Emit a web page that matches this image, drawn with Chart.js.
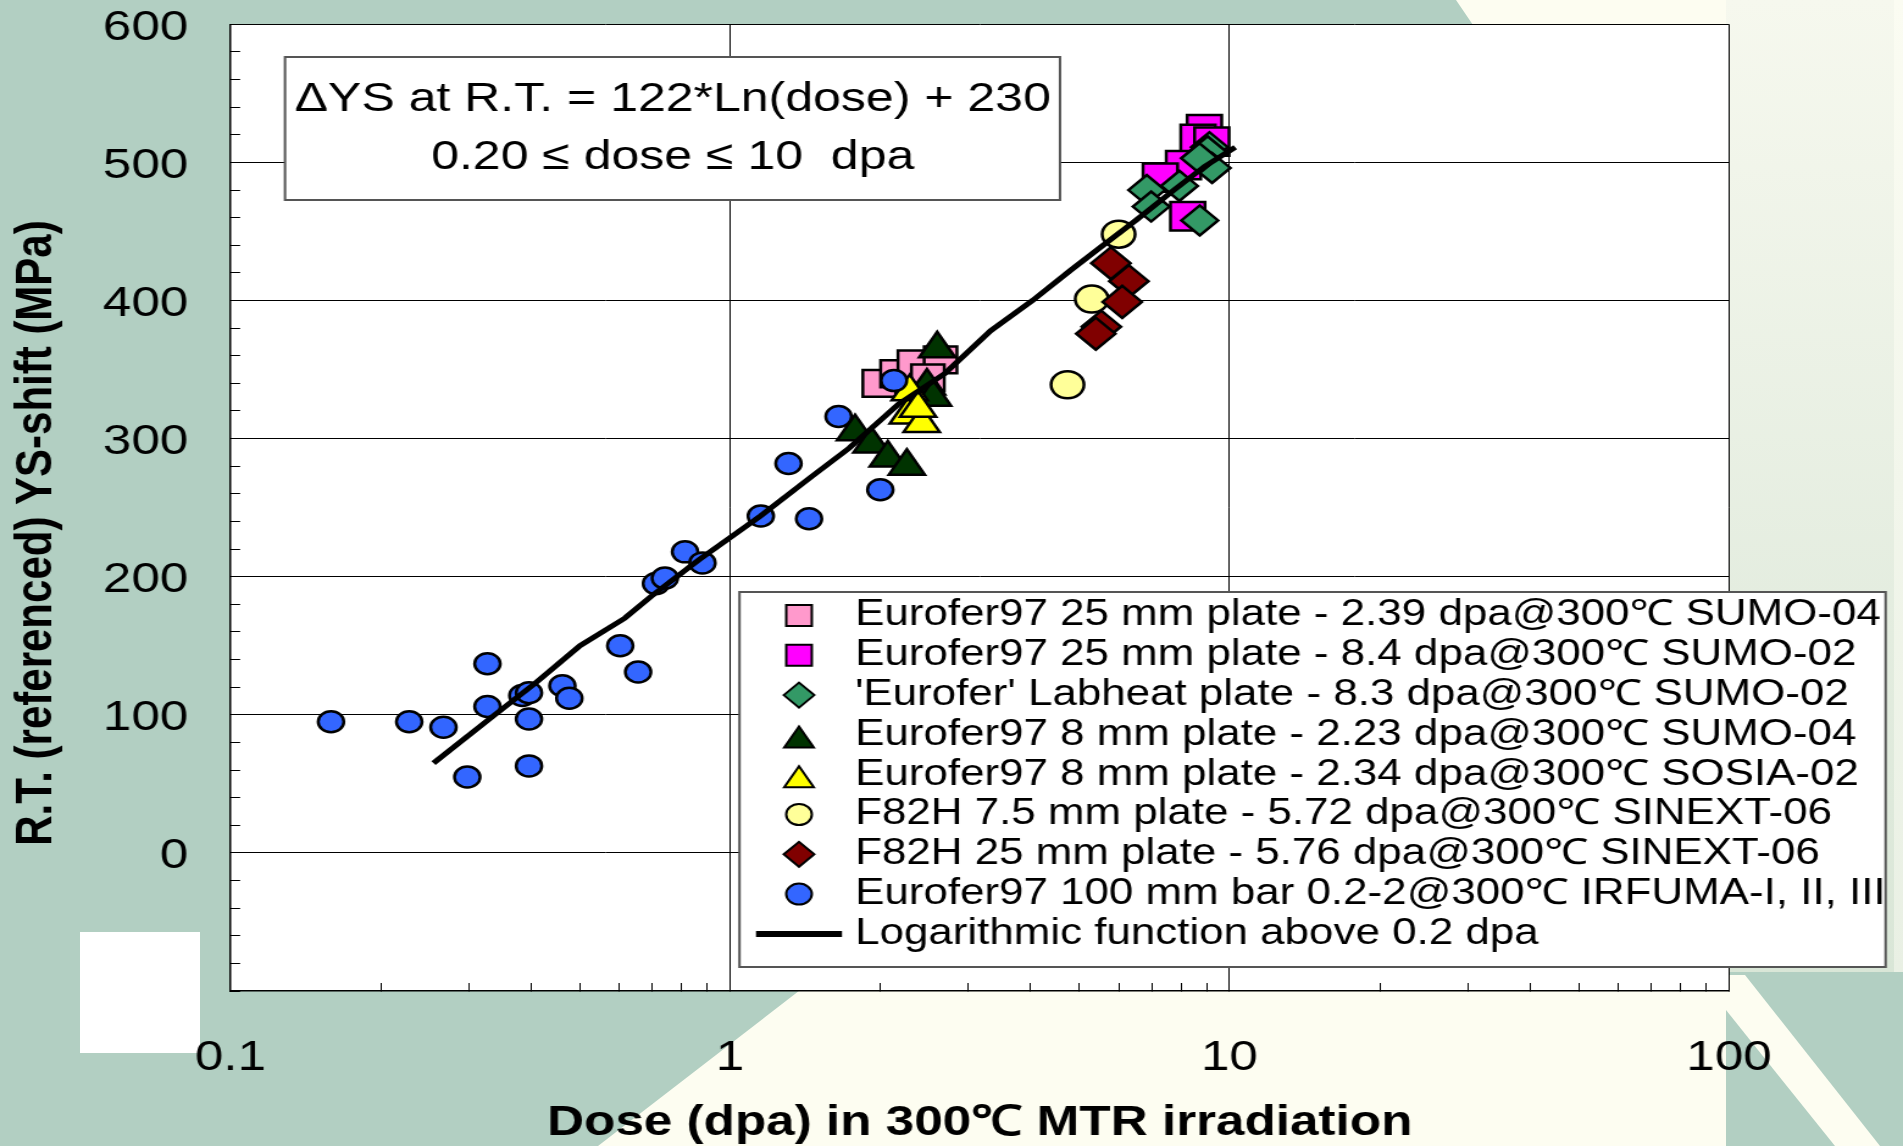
<!DOCTYPE html>
<html>
<head>
<meta charset="utf-8">
<title>R.T. YS-shift vs dose</title>
<script src="https://cdn.jsdelivr.net/npm/chart.js@4.4.1/dist/chart.umd.min.js"></script>
<style>
  html, body { margin: 0; padding: 0; overflow: hidden; }
  body { background: #b2cfc2; width: 1903px; height: 1146px; position: relative; }
  .deco { position: absolute; left: 0; top: 0; width: 1903px; height: 1146px; }
  #beam { background: #fdfdf1; clip-path: polygon(1456px 0, 1726px 0, 1726px 1146px, 598px 1146px, 852px 950px, 1490px 50px); }
  #strip { background: #fdfdf1; clip-path: polygon(1726px 975px, 1745px 975px, 1880px 1146px, 1835px 1146px, 1726px 1010px); }
  #panel { position: absolute; left: 1726px; top: 0; width: 168px; height: 972px; background: linear-gradient(#f6f8ee, #d9e6d7); }
  #edge { position: absolute; left: 1894px; top: 0; width: 9px; height: 972px; background: linear-gradient(#fbfcf2, #e9f0e4); }
  #patch { position: absolute; left: 80px; top: 932px; width: 120px; height: 121px; background: #fff; }
  canvas { position: absolute; left: 0; top: 0; }
</style>
</head>
<body>
<div class="deco" id="beam"></div>
<div class="deco" id="strip"></div>
<div id="panel"></div>
<div id="edge"></div>
<div id="patch"></div>
<canvas id="chart" width="1560" height="1146" style="width:1903px;height:1146px"></canvas>
<script>
// the slide picture is stretched sideways, so the canvas is drawn narrower and widened by css
const STRETCH = 1903 / 1560;
const ix = (x) => x / STRETCH;

const seriesNames = [
    "Eurofer97 25 mm plate - 2.39 dpa@300\u2103 SUMO-04",
    "Eurofer97 25 mm plate - 8.4 dpa@300\u2103 SUMO-02",
    "'Eurofer' Labheat plate - 8.3 dpa@300\u2103 SUMO-02",
    "Eurofer97 8 mm plate - 2.23 dpa@300\u2103 SUMO-04",
    "Eurofer97 8 mm plate - 2.34 dpa@300\u2103 SOSIA-02",
    "F82H 7.5 mm plate - 5.72 dpa@300\u2103 SINEXT-06",
    "F82H 25 mm plate - 5.76 dpa@300\u2103 SINEXT-06",
    "Eurofer97 100 mm bar 0.2-2@300\u2103 IRFUMA-I, II, III",
    "Logarithmic function above 0.2 dpa"
];

const pinkX = [1.99, 2.16, 2.34, 2.64, 2.49];
const pinkY = [340, 347, 354, 357, 344];

const magentaX = [8.91, 8.65, 9.22, 8.09, 7.27, 8.25];
const magentaY = [524, 517, 515, 498, 489, 461];

const labheatX = [9.12, 9.04, 9.23, 8.71, 7.94, 6.83, 6.97, 8.72];
const labheatY = [511, 508, 496, 503, 483, 480, 468, 458];

const sumoTriX = [1.78, 1.92, 2.07, 2.26, 2.48, 2.55, 2.60];
const sumoTriY = [305, 296, 286, 280, 338, 330, 365];

const sosiaTriX = [2.29, 2.27, 2.42, 2.38];
const sosiaTriY = [334, 317, 311, 322];

const f82hPlateX = [4.74, 5.30, 6.00];
const f82hPlateY = [339, 401, 448];

const f82hThickX = [5.79, 6.29, 6.10, 5.54, 5.40];
const f82hThickY = [427, 414, 399, 381, 376];

const irfumaX = [0.159, 0.228, 0.267, 0.298, 0.327, 0.327, 0.384, 0.396, 0.396, 0.396, 0.462, 0.477,
                 0.603, 0.655, 0.711, 0.741, 0.813, 0.881, 1.153, 1.44, 1.31, 2.0, 1.65, 2.13];
const irfumaY = [95, 95, 91, 55, 137, 106, 114, 116, 97, 63, 121, 112,
                 150, 131, 195, 199, 218, 210, 244, 242, 282, 263, 316, 342];

const fitX = [0.255, 0.33, 0.408, 0.501, 0.616, 0.697, 0.865, 1.152, 1.451, 1.731, 2.176, 2.69,
              3.324, 4.035, 4.812, 5.54, 6.494, 7.744, 8.91, 10.27];
const fitY = [65, 97, 123, 150, 170, 186, 212, 244, 272, 293, 325, 347,
              378, 400, 422, 439, 458, 480, 497, 511];

const xTicks = [0.1, 0.2, 0.3, 0.4, 0.5, 0.6, 0.7, 0.8, 0.9,
                1, 2, 3, 4, 5, 6, 7, 8, 9,
                10, 20, 30, 40, 50, 60, 70, 80, 90, 100];
const xLabels = [0.1, 1, 10, 100];
const yLabels = [0, 100, 200, 300, 400, 500, 600];

const xTitle = "Dose (dpa) in 300\u2103 MTR irradiation";
const yTitle = "R.T. (referenced) YS-shift (MPa)";
const equation = ["\u0394YS at R.T. = 122*Ln(dose) + 230", "0.20 \u2264 dose \u2264 10  dpa"];

const FONT = "'Liberation Sans', Arial, sans-serif";
Chart.defaults.font.family = FONT;
Chart.defaults.color = "#000";

function pts(xs, ys) {
    return xs.map((x, i) => ({ x: x, y: ys[i] }));
}

function markers(label, xs, ys, style, radius, colour, legendRadius, order) {
    return {
        label: label,
        data: pts(xs, ys),
        showLine: false,
        pointStyle: style,
        pointRadius: radius,
        pointBackgroundColor: colour,
        pointBorderColor: "#000",
        pointBorderWidth: 2.5,
        legendRadius: legendRadius,
        order: order
    };
}

const datasets = [
    markers(seriesNames[0], pinkX, pinkY, "rect", 19, "#ff99cc", 14.8, 8),
    markers(seriesNames[1], magentaX, magentaY, "rect", 20, "#ff00ff", 14.8, 7),
    markers(seriesNames[2], labheatX, labheatY, "rectRot", 15, "#339966", 12.5, 6),
    markers(seriesNames[3], sumoTriX, sumoTriY, "triangle", 17, "#003300", 14, 5),
    markers(seriesNames[4], sosiaTriX, sosiaTriY, "triangle", 17, "#ffff00", 14, 4),
    markers(seriesNames[5], f82hPlateX, f82hPlateY, "circle", 13.5, "#ffff99", 10.5, 3),
    markers(seriesNames[6], f82hThickX, f82hThickY, "rectRot", 16, "#800000", 12.5, 2),
    markers(seriesNames[7], irfumaX, irfumaY, "circle", 10.5, "#3366ff", 10.5, 1),
    {
        label: seriesNames[8],
        data: pts(fitX, fitY),
        showLine: true,
        borderColor: "#000",
        borderWidth: 5,
        pointRadius: 0,
        tension: 0,
        fill: false,
        order: 0
    }
];

// white plot area, rotated y title, equation box and the legend box
const slideParts = {
    id: "slideParts",
    beforeDraw(chart) {
        const a = chart.chartArea;
        const ctx = chart.ctx;
        ctx.save();
        ctx.fillStyle = "#fff";
        ctx.fillRect(a.left, a.top, a.right - a.left, a.bottom - a.top);
        ctx.restore();
    },
    afterDraw(chart) {
        const ctx = chart.ctx;
        ctx.save();

        // y axis title
        ctx.save();
        ctx.translate(ix(37), 533);
        ctx.rotate(-Math.PI / 2);
        ctx.font = "bold 42px " + FONT;
        ctx.fillStyle = "#000";
        ctx.textAlign = "center";
        ctx.textBaseline = "middle";
        ctx.fillText(yTitle, 0, 0);
        ctx.restore();

        // equation box
        ctx.fillStyle = "#fff";
        ctx.strokeStyle = "#555";
        ctx.lineWidth = 2;
        ctx.fillRect(ix(285), 57, ix(1060) - ix(285), 143);
        ctx.strokeRect(ix(285), 57, ix(1060) - ix(285), 143);
        ctx.fillStyle = "#000";
        ctx.font = "41px " + FONT;
        ctx.textAlign = "center";
        ctx.textBaseline = "middle";
        ctx.fillText(equation[0], ix(672.7), 100);
        ctx.fillText(equation[1], ix(672.7), 158);

        // legend box
        ctx.fillStyle = "#fff";
        ctx.fillRect(ix(739.5), 592, ix(1885.6) - ix(739.5), 375);
        ctx.strokeStyle = "#555";
        ctx.lineWidth = 2;
        ctx.strokeRect(ix(739.5), 592, ix(1885.6) - ix(739.5), 375);

        ctx.font = "36px " + FONT;
        ctx.textAlign = "left";
        ctx.textBaseline = "middle";
        chart.data.datasets.forEach((ds, i) => {
            const y = 615.5 + i * 39.8;
            if (ds.showLine) {
                ctx.strokeStyle = "#000";
                ctx.lineWidth = 6;
                ctx.beginPath();
                ctx.moveTo(ix(756), y);
                ctx.lineTo(ix(842), y);
                ctx.stroke();
            } else {
                let my = y;
                if (ds.pointStyle === "triangle") my += ds.legendRadius / 4 + 2;
                ctx.fillStyle = ds.pointBackgroundColor;
                ctx.strokeStyle = "#000";
                ctx.lineWidth = 2;
                Chart.helpers.drawPoint(ctx, {
                    pointStyle: ds.pointStyle,
                    radius: ds.legendRadius,
                    rotation: 0,
                    borderWidth: 2
                }, ix(799), my);
            }
            ctx.fillStyle = "#000";
            ctx.fillText(ds.label, ix(855), y);
        });

        ctx.restore();
    }
};

const chart = new Chart(document.getElementById("chart"), {
    type: "scatter",
    data: { datasets: datasets },
    options: {
        responsive: false,
        maintainAspectRatio: false,
        animation: false,
        events: [],
        layout: { padding: { top: 24.3, right: 1560 - ix(1729), left: 0, bottom: 0 } },
        plugins: {
            legend: { display: false },
            tooltip: { enabled: false }
        },
        scales: {
            x: {
                type: "logarithmic",
                min: 0.1,
                max: 100,
                afterBuildTicks: (scale) => {
                    scale.ticks = xTicks.map(v => ({ value: v }));
                },
                afterFit: (scale) => {
                    scale.height = 155;
                    scale.paddingLeft = 0;
                    scale.paddingRight = 0;
                },
                ticks: {
                    autoSkip: false,
                    maxRotation: 0,
                    padding: 50,
                    color: "#000",
                    font: { size: 42 },
                    callback: (v) => xLabels.includes(v) ? String(v) : ""
                },
                grid: {
                    color: (c) => (c.tick && xLabels.includes(c.tick.value)) ? "#000" : "rgba(0,0,0,0)",
                    tickColor: "#000",
                    tickLength: -8,
                    lineWidth: 1
                },
                border: { color: "#000", width: 1.5 },
                title: {
                    display: true,
                    text: xTitle,
                    color: "#000",
                    font: { size: 42, weight: "bold" },
                    padding: { top: 0, bottom: -3 }
                }
            },
            y: {
                min: -100,
                max: 600,
                afterFit: (scale) => {
                    scale.width = ix(230.4);
                    scale.paddingTop = 0;
                    scale.paddingBottom = 0;
                },
                ticks: {
                    stepSize: 20,
                    autoSkip: false,
                    padding: 42.5,
                    labelOffset: 4,
                    color: "#000",
                    font: { size: 42 },
                    callback: (v) => yLabels.includes(v) ? String(v) : ""
                },
                grid: {
                    color: (c) => (c.tick && yLabels.includes(c.tick.value)) ? "#000" : "rgba(0,0,0,0)",
                    tickColor: "#000",
                    tickLength: -8,
                    lineWidth: 1
                },
                border: { color: "#000", width: 1.5 }
            }
        }
    },
    plugins: [slideParts]
});
</script>
</body>
</html>
